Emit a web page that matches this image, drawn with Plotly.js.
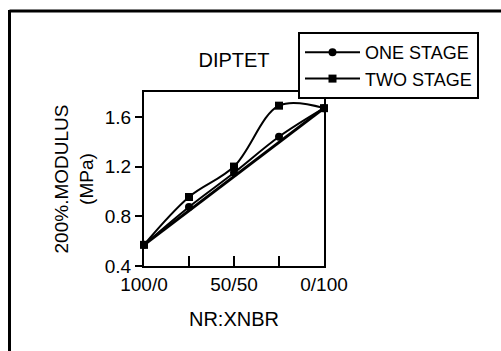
<!DOCTYPE html>
<html>
<head>
<meta charset="utf-8">
<script src="https://cdn.plot.ly/plotly-3.0.1.min.js"></script>
<style>html,body{margin:0;padding:0;background:#fff;}#chart{width:501px;height:351px;}</style>
</head>
<body>
<div id="chart"></div>
<script>
// Data (XNBR content in blend, %)
var xnbr = [0, 25, 50, 75, 100];
var tickLabels = ['100/0', '', '50/50', '', '0/100'];
var yTicks = [0.4, 0.8, 1.2, 1.6];
var yTickLabels = ['0.4', '0.8', '1.2', '1.6'];
var oneStage = [0.57, 0.875, 1.15, 1.44, 1.67];
var twoStage = [0.57, 0.955, 1.20, 1.69, 1.67];
var additiveX = [0, 100];
var additiveY = [0.57, 1.67];

var W = 501, H = 351;
var mL = 144, mR = 177, mT = 92, mB = 85;
var pw = W - mL - mR, ph = H - mT - mB;
function px(x){ return (x - mL) / pw; }
function py(y){ return (H - mB - y) / ph; }

var FONT = 'Liberation Sans, Arial, sans-serif';

var traces = [
  {x: xnbr, y: oneStage, name: 'ONE STAGE', mode: 'lines+markers',
   line: {color: '#000', width: 2, shape: 'spline', smoothing: 1},
   marker: {symbol: 'circle', size: 8, color: '#000'}, cliponaxis: false},
  {x: xnbr, y: twoStage, name: 'TWO STAGE', mode: 'lines+markers',
   line: {color: '#000', width: 2, shape: 'spline', smoothing: 1},
   marker: {symbol: 'square', size: 8, color: '#000'}, cliponaxis: false},
  {x: additiveX, y: additiveY, mode: 'lines', showlegend: false,
   line: {color: '#000', width: 3}, cliponaxis: false}
];

var layout = {
  width: W, height: H,
  margin: {l: mL, r: mR, t: mT, b: mB, pad: 0},
  paper_bgcolor: '#fff', plot_bgcolor: '#fff',
  font: {family: FONT, color: '#000', size: 18},
  showlegend: true,
  title: {text: 'DIPTET', font: {size: 20, family: FONT, color: '#000'},
          xref: 'paper', x: 0.5, xanchor: 'center',
          yref: 'container', y: 1 - 60 / H, yanchor: 'middle'},
  xaxis: {range: [0, 100], tickvals: xnbr, ticktext: tickLabels,
          ticks: 'inside', ticklen: 10, tickwidth: 2, tickcolor: '#000',
          showline: true, linewidth: 2, linecolor: '#000', mirror: true,
          showgrid: false, zeroline: false,
          tickfont: {size: 19, family: FONT},
          title: {text: 'NR:XNBR', font: {size: 20, family: FONT}, standoff: 18}},
  yaxis: {range: [0.4, 1.8], tickvals: yTicks, ticktext: yTickLabels,
          ticks: 'outside', ticklen: 7, tickwidth: 2, tickcolor: '#000',
          showline: true, linewidth: 2, linecolor: '#000', mirror: true,
          showgrid: false, zeroline: false,
          tickfont: {size: 19, family: FONT},
          title: {text: '200%.MODULUS<br>(MPa)', font: {size: 19, family: FONT}, standoff: 6}},
  legend: {x: px(298), y: py(32), xanchor: 'left', yanchor: 'top',
           bordercolor: '#000', borderwidth: 2, bgcolor: '#fff',
           font: {size: 18, family: FONT, color: '#000'}, itemwidth: 55,
           tracegroupgap: 0},
  shapes: [
    {type: 'line', xref: 'paper', yref: 'paper', x0: px(9.5), x1: px(9.5), y0: py(10), y1: py(360),
     line: {color: '#000', width: 3}},
    {type: 'line', xref: 'paper', yref: 'paper', x0: px(9.5), x1: px(501), y0: py(11), y1: py(11),
     line: {color: '#000', width: 3}}
  ]
};

Plotly.newPlot('chart', traces, layout, {displayModeBar: false, staticPlot: true});
</script>
</body>
</html>
